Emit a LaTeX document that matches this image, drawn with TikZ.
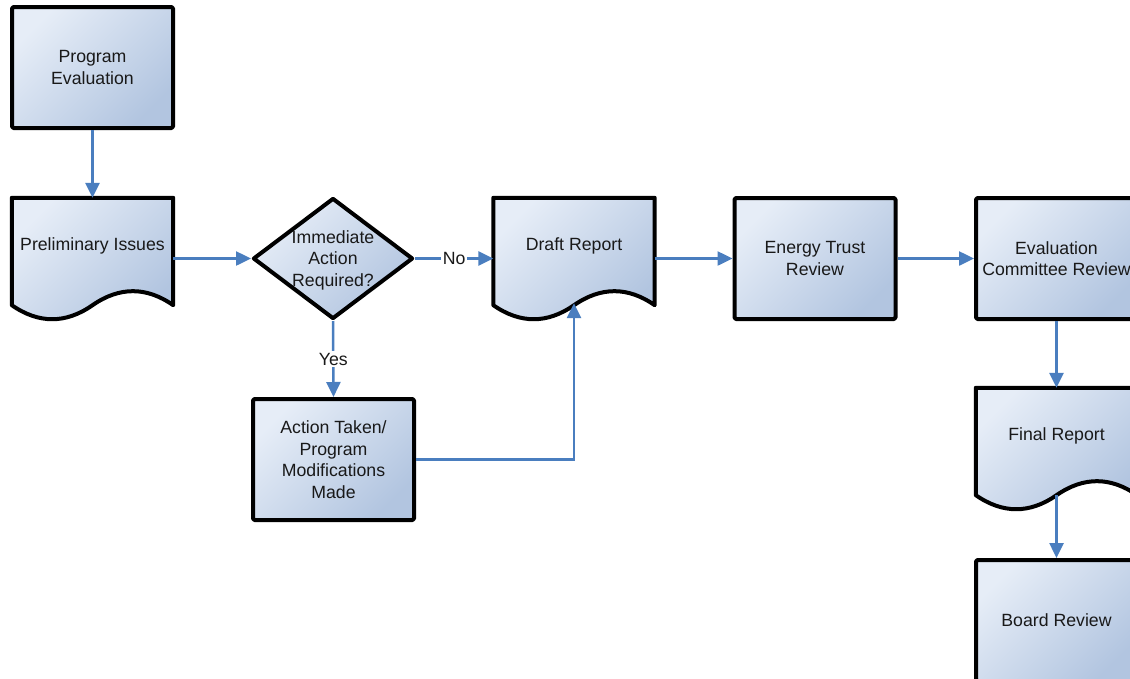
\documentclass[tikz,border=0pt]{standalone}
\usepackage{fontspec}
\setmainfont{Liberation Sans}
\usetikzlibrary{arrows.meta,shapes.geometric,calc}

\definecolor{fillLight}{HTML}{E6EDF7}
\definecolor{fillDark}{HTML}{B2C5E0}
\definecolor{flowblue}{HTML}{4A7EBF}

% outline of a "document" symbol laid over an invisible node: wavy bottom edge
\newcommand\docpath[1]{(#1.north west) -- (#1.north east)
  -- ([yshift=14pt]#1.south east)
  .. controls ([xshift=-26.8pt,yshift=32.7pt]#1.south east) and ([xshift=-53.7pt,yshift=32.7pt]#1.south east) .. ([yshift=14pt]#1.south)
  .. controls ([xshift=-26.8pt,yshift=-4.7pt]#1.south) and ([xshift=-53.7pt,yshift=-4.7pt]#1.south) .. ([yshift=14pt]#1.south west)
  -- cycle}

\tikzset{
  x=1pt, y=-1pt,
  every node/.style={font=\fontsize{17.7}{21.5}\selectfont, text=black!90},
  shaded/.style={top color=fillLight, bottom color=fillDark, shading angle=45},
  procbox/.style={shaded, rectangle, draw=black, line width=4pt, rounded corners=1.5pt,
    line join=round, minimum width=161pt, minimum height=121pt, inner sep=0pt, align=center},
  docarea/.style={rectangle, minimum width=161pt, minimum height=121pt, inner sep=0pt},
  docshape/.style={shaded, draw=black, line width=4pt, line join=round},
  decbox/.style={shaded, diamond, draw=black, line width=4pt, line join=round,
    minimum width=160pt, minimum height=121pt, inner sep=0pt},
  txt/.style={align=center, inner sep=0pt},
  flow/.style={draw=flowblue, line width=2.5pt, -{Triangle[length=15pt,width=14pt]}},
  edgelabel/.style={fill=white, inner sep=1.5pt}
}

\begin{document}
\begin{tikzpicture}
\useasboundingbox (0,0) rectangle (1130,678);
\clip (0,0) rectangle (1130,678);

% process boxes
\node[procbox] (prog) at (92.5,67.5) {Program\\Evaluation};
\node[procbox] (etr) at (815,258.5) {Energy Trust\\Review};
\node[procbox] (ecr) at (1056.5,258.5) {Evaluation\\Committee Review};
\node[procbox] (act) at (333.5,459.5) {Action Taken/\\Program\\Modifications\\Made};
\node[procbox] (board) at (1056.5,620.5) {Board Review};

% decision
\node[decbox] (dec) at (333,258.5) {};
\node[txt] (dect) at ([yshift=-1.5pt]dec.center) {Immediate\\Action\\Required?};

% document shapes
\node[docarea] (prelim) at (92.5,258.5) {};
\path[docshape] \docpath{prelim};
\node[txt] (prelimt) at ([yshift=13pt]prelim.center) {Preliminary Issues};

\node[docarea] (draft) at (574,258.5) {};
\path[docshape] \docpath{draft};
\node[txt] (draftt) at ([yshift=13pt]draft.center) {Draft Report};

\node[docarea] (final) at (1056.5,448.5) {};
\path[docshape] \docpath{final};
\node[txt] (finalt) at ([yshift=12.5pt]final.center) {Final Report};

% attachment points on the wavy edges
\coordinate (draftw) at ([yshift=16pt]draft.south);
\coordinate (finalw) at ([yshift=14pt]final.south);

% connectors
\draw[flow] (prog.south) -- (prelim.north);
\draw[flow] (prelim.east) -- (dec.west);
\draw[flow] (dec.east) -- node[edgelabel] {No} (draft.west);
\draw[flow] (dec.south) -- node[edgelabel] {Yes} (act.north);
\draw[flow] (act.east) -| (draftw);
\draw[flow] (draft.east) -- (etr.west);
\draw[flow] (etr.east) -- (ecr.west);
\draw[flow] (ecr.south) -- (final.north);
\draw[flow] (finalw) -- (board.north);
\end{tikzpicture}
\end{document}
